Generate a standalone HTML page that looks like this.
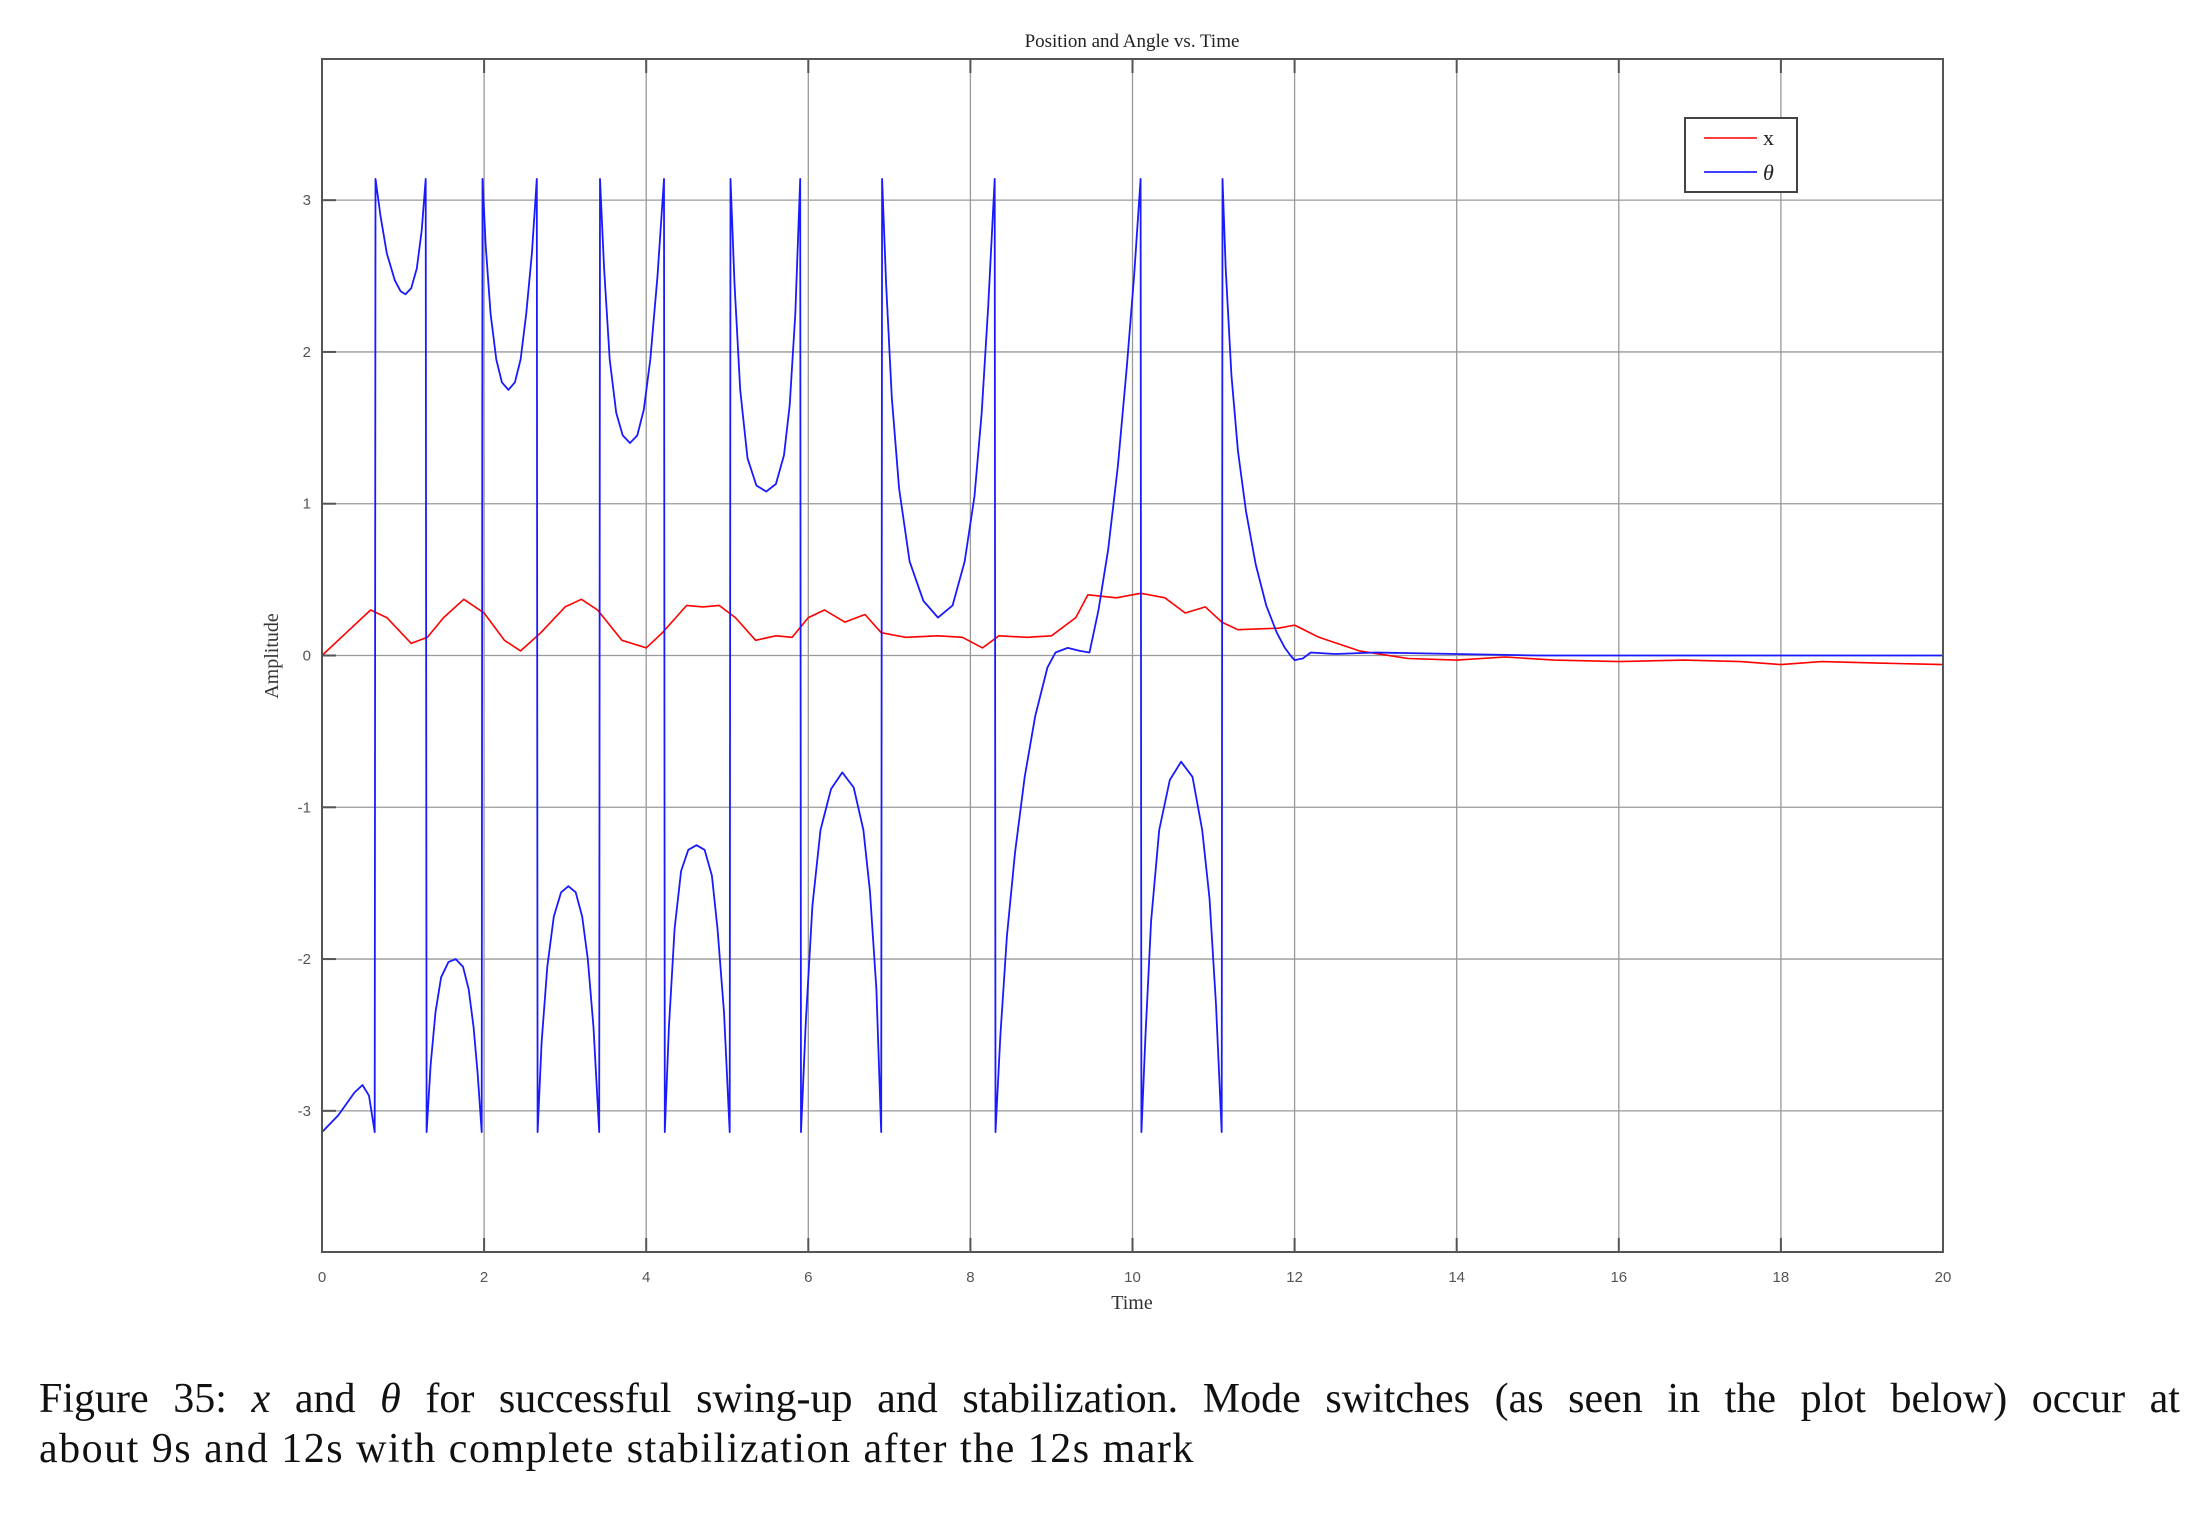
<!DOCTYPE html>
<html><head><meta charset="utf-8"><style>
html,body{margin:0;padding:0;background:#fff;width:2210px;height:1514px;overflow:hidden;position:relative}
svg{display:block;position:absolute;left:0;top:0}
.cap{position:absolute;left:39px;width:2141px;font-family:"Liberation Serif",serif;font-size:42px;color:#111;white-space:nowrap}
#cap1{top:1375px;text-align:justify;text-align-last:justify;white-space:normal}
#cap2{top:1425px;letter-spacing:1.5px}
</style></head><body>
<svg id="chart" width="2210" height="1514" xmlns="http://www.w3.org/2000/svg">
<text x="1132" y="47" text-anchor="middle" font-family="Liberation Serif, serif" font-size="19" fill="#222">Position and Angle vs. Time</text>
<g id="grid"></g>
<g id="series"></g>
<rect x="322" y="59" width="1621" height="1193" fill="none" stroke="#555" stroke-width="2"/>
<g id="ticks"></g>
<text x="1132" y="1309" text-anchor="middle" font-family="Liberation Serif, serif" font-size="20" fill="#333">Time</text>
<text transform="translate(278,656) rotate(-90)" text-anchor="middle" font-family="Liberation Serif, serif" font-size="20" fill="#333">Amplitude</text>
<g>
<rect x="1685" y="118" width="112" height="74" fill="#fff" stroke="#444" stroke-width="2"/>
<line x1="1704" y1="138" x2="1757" y2="138" stroke="#f00" stroke-width="1.6"/>
<text x="1763" y="145" font-family="Liberation Serif, serif" font-size="22" fill="#222">x</text>
<line x1="1704" y1="172" x2="1757" y2="172" stroke="#00f" stroke-width="1.6"/>
<text x="1763" y="180" font-family="Liberation Serif, serif" font-style="italic" font-size="22" fill="#222">θ</text>
</g>
</svg>
<div id="cap1" class="cap">Figure 35: <i>x</i> and <i>θ</i> for successful swing-up and stabilization. Mode switches (as seen in the plot below) occur at</div>
<div id="cap2" class="cap">about 9s and 12s with complete stabilization after the 12s mark</div>
<script>
const xTicks=[0,2,4,6,8,10,12,14,16,18,20];
const yTicks=[-3,-2,-1,0,1,2,3];
const xTime=[0,0.3,0.6,0.8,1.1,1.3,1.5,1.75,2.0,2.25,2.45,2.7,3.0,3.2,3.4,3.7,4.0,4.2,4.5,4.7,4.9,5.1,5.35,5.6,5.8,6.0,6.2,6.45,6.7,6.9,7.2,7.6,7.9,8.15,8.35,8.7,9.0,9.3,9.45,9.8,10.1,10.4,10.65,10.9,11.1,11.3,11.8,12.0,12.3,12.8,13.4,14,14.6,15.2,16,16.8,17.5,18,18.5,19.2,20];
const xValues=[0,0.15,0.3,0.25,0.08,0.12,0.25,0.37,0.28,0.1,0.03,0.15,0.32,0.37,0.3,0.1,0.05,0.15,0.33,0.32,0.33,0.25,0.1,0.13,0.12,0.25,0.3,0.22,0.27,0.15,0.12,0.13,0.12,0.05,0.13,0.12,0.13,0.25,0.4,0.38,0.41,0.38,0.28,0.32,0.22,0.17,0.18,0.2,0.12,0.03,-0.02,-0.03,-0.01,-0.03,-0.04,-0.03,-0.04,-0.06,-0.04,-0.05,-0.06];
const thetaTime=[0,0.2,0.4,0.5,0.58,0.65,
0.66,0.72,0.8,0.9,0.97,1.03,1.1,1.17,1.23,1.28,
1.29,1.34,1.4,1.47,1.56,1.65,1.74,1.81,1.87,1.92,1.97,
1.98,2.02,2.08,2.15,2.22,2.3,2.38,2.45,2.52,2.59,2.65,
2.66,2.71,2.78,2.86,2.95,3.04,3.13,3.21,3.28,3.35,3.42,
3.43,3.48,3.55,3.63,3.71,3.8,3.89,3.97,4.05,4.14,4.22,
4.23,4.28,4.35,4.43,4.52,4.62,4.72,4.81,4.88,4.96,5.03,
5.04,5.09,5.16,5.25,5.36,5.48,5.6,5.7,5.77,5.84,5.9,
5.91,5.97,6.05,6.15,6.28,6.42,6.56,6.68,6.76,6.84,6.9,
6.91,6.96,7.03,7.12,7.25,7.42,7.6,7.78,7.93,8.05,8.14,8.22,8.3,
8.31,8.37,8.45,8.55,8.67,8.8,8.95,9.05,9.2,9.35,9.47,9.58,9.7,9.82,9.93,10.02,10.1,
10.11,10.16,10.23,10.33,10.46,10.6,10.74,10.86,10.95,11.03,11.1,
11.11,11.15,11.22,11.3,11.4,11.52,11.65,11.78,11.88,11.95,12.0,12.1,12.2,12.5,13,14,15,16,18,20];
const thetaValues=[-3.14,-3.03,-2.88,-2.83,-2.9,-3.14,
3.14,2.9,2.65,2.47,2.4,2.38,2.42,2.55,2.8,3.14,
-3.14,-2.7,-2.35,-2.12,-2.02,-2.0,-2.05,-2.2,-2.45,-2.75,-3.14,
3.14,2.7,2.25,1.95,1.8,1.75,1.8,1.95,2.25,2.65,3.14,
-3.14,-2.55,-2.05,-1.72,-1.56,-1.52,-1.56,-1.72,-2.0,-2.45,-3.14,
3.14,2.55,1.95,1.6,1.45,1.4,1.45,1.62,1.95,2.5,3.14,
-3.14,-2.45,-1.8,-1.42,-1.28,-1.25,-1.28,-1.45,-1.8,-2.35,-3.14,
3.14,2.45,1.75,1.3,1.12,1.08,1.13,1.32,1.65,2.25,3.14,
-3.14,-2.4,-1.65,-1.15,-0.88,-0.77,-0.87,-1.15,-1.55,-2.2,-3.14,
3.14,2.45,1.7,1.1,0.62,0.36,0.25,0.33,0.62,1.05,1.6,2.3,3.14,
-3.14,-2.5,-1.85,-1.3,-0.8,-0.4,-0.08,0.02,0.05,0.03,0.02,0.3,0.7,1.25,1.9,2.5,3.14,
-3.14,-2.5,-1.75,-1.15,-0.82,-0.7,-0.8,-1.15,-1.6,-2.3,-3.14,
3.14,2.55,1.85,1.35,0.95,0.6,0.33,0.15,0.05,0,-0.03,-0.02,0.02,0.01,0.02,0.01,0.0,0.0,0.0,0.0];

const L=322,R=1943,T=59,B=1252,YMIN=-3.93,YMAX=3.93;
const sx=t=>L+(t-0)/(20-0)*(R-L);
const sy=v=>B-(v-YMIN)/(YMAX-YMIN)*(B-T);
const NS='http://www.w3.org/2000/svg';
function mk(tag,attrs,parent){const e=document.createElementNS(NS,tag);for(const k in attrs)e.setAttribute(k,attrs[k]);parent.appendChild(e);return e;}
const grid=document.getElementById('grid'),ticks=document.getElementById('ticks'),series=document.getElementById('series');
xTicks.forEach(t=>{
  const g=mk('line',{x1:sx(t),x2:sx(t),y1:T,y2:B,stroke:'#999','stroke-width':1.3},grid);
  
  
  const m=mk('line',{x1:sx(t),x2:sx(t),y1:B,y2:B-14,stroke:'#555','stroke-width':2},ticks);
  
  
  const m2=mk('line',{x1:sx(t),x2:sx(t),y1:T,y2:T+14,stroke:'#555','stroke-width':2},ticks);
  
  
  const tx=mk('text',{x:sx(t),y:1282,'text-anchor':'middle','font-family':'Liberation Sans, sans-serif','font-size':15,fill:'#555'},ticks);
  tx.textContent=t;
  
  
});
yTicks.forEach(v=>{
  const g=mk('line',{x1:L,x2:R,y1:sy(v),y2:sy(v),stroke:'#999','stroke-width':1.3},grid);
  
  
  const m=mk('line',{x1:L,x2:L+14,y1:sy(v),y2:sy(v),stroke:'#555','stroke-width':2},ticks);
  
  
  const tx=mk('text',{x:311,y:sy(v)+5,'text-anchor':'end','font-family':'Liberation Sans, sans-serif','font-size':15,fill:'#555'},ticks);
  tx.textContent=v;
  
  
});
function path(ts,vs){return ts.map((t,i)=>(i?'L':'M')+sx(t).toFixed(1)+','+sy(vs[i]).toFixed(1)).join(' ');}
const px=mk('path',{d:path(xTime,xValues),fill:'none',stroke:'#f00','stroke-width':1.6,'stroke-linejoin':'round'},series);


const pt=mk('path',{d:path(thetaTime,thetaValues),fill:'none',stroke:'#1a1aff','stroke-width':1.8,'stroke-linejoin':'round'},series);


</script>
</body></html>
